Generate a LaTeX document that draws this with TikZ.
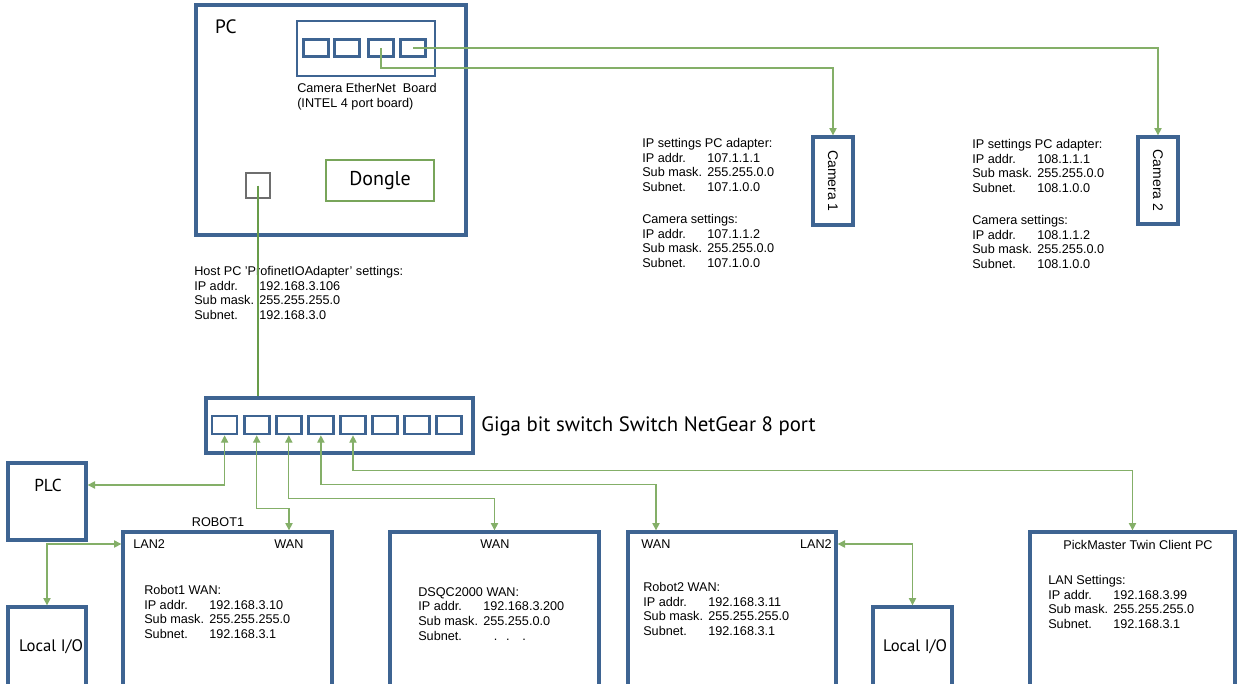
\documentclass[tikz,border=0pt]{standalone}
\usepackage{fontspec}
\setmainfont{Liberation Sans}
\newfontfamily\labelfont{PT Sans}
\usetikzlibrary{arrows.meta,fit,calc}

\definecolor{boxblue}{RGB}{62,100,146}
\definecolor{linkgreen}{RGB}{132,175,104}
\definecolor{pcgreen}{RGB}{104,156,74}
\definecolor{donglegreen}{RGB}{120,165,90}
\definecolor{portgray}{RGB}{110,110,110}

\newcommand{\setrow}[2]{\makebox[48.75pt][l]{#1}#2}

\tikzset{
	bluebox/.style={draw=boxblue, line width=2.5pt, inner sep=0pt},
	portbox/.style={draw=boxblue, line width=2pt, inner sep=0pt},
	link/.style={draw=linkgreen, line width=0.9pt, -{Triangle[length=5.5pt,width=5.5pt]}},
	dlink/.style={link, {Triangle[length=5.5pt,width=5.5pt]}-{Triangle[length=5.5pt,width=5.5pt]}},
	txt/.style={font=\fontsize{9.5}{11}\selectfont, inner sep=0pt},
	info/.style={txt, anchor=north west, align=left},
	big/.style={font=\labelfont\fontsize{14}{16}\selectfont, inner sep=0pt},
}

\begin{document}
\begin{tikzpicture}[x=0.75pt, y=-0.75pt]
\useasboundingbox (0,0) rectangle (1238,683);
\clip (0,0) rectangle (1238,683);

% PC
\node [bluebox, fit={(196,5) (466,235)}] (pc) {};
\node [big, font=\labelfont\fontsize{14.5}{16}\selectfont] (pclbl) at (226,27) {PC};
\node [bluebox, line width=2.2pt, fit={(297,21) (435,76)}] (board) {};
\foreach \x [count=\i] in {316,347,381,413}
	\node [portbox, minimum width=18.75pt, minimum height=12.75pt] (cb\i) at (\x,48) {};
\node [txt, anchor=north west, align=left] (boardlbl) at (297,83)
	{Camera EtherNet\ \ Board\\(INTEL 4 port board)};
\node [draw=donglegreen, line width=1.6pt, inner sep=0pt, fit={(326,160) (434,201)}] (dongle) {};
\node [big, font=\labelfont\fontsize{15}{16}\selectfont] (donglelbl) at (dongle.center) {Dongle};
\node [draw=portgray, line width=1.1pt, inner sep=0pt, fit={(246,173) (270,198)}] (sq) {};

% cameras
\node [bluebox, fit={(813,137) (853,225)}] (cam1) {};
\node [txt, rotate=-90, font=\fontsize{10.5}{12}\selectfont] (cam1lbl) at (cam1.center) {Camera 1};
\node [bluebox, fit={(1138,137) (1178,224)}] (cam2) {};
\node [txt, rotate=-90, font=\fontsize{10.5}{12}\selectfont] (cam2lbl) at (cam2.center) {Camera 2};

\draw [link] (cb4.center) -| (cam2.north);
\draw [link] (cb3.center) -- ++(0,20) -| (cam1.north);

\node [info] (cam1set) at (642,138) {IP settings PC adapter:\\
	\setrow{IP addr.}{107.1.1.1}\\
	\setrow{Sub mask.}{255.255.0.0}\\
	\setrow{Subnet.}{107.1.0.0}\\[13pt]
	Camera settings:\\
	\setrow{IP addr.}{107.1.1.2}\\
	\setrow{Sub mask.}{255.255.0.0}\\
	\setrow{Subnet.}{107.1.0.0}};
\node [info] (cam2set) at (972,139) {IP settings PC adapter:\\
	\setrow{IP addr.}{108.1.1.1}\\
	\setrow{Sub mask.}{255.255.0.0}\\
	\setrow{Subnet.}{108.1.0.0}\\[13pt]
	Camera settings:\\
	\setrow{IP addr.}{108.1.1.2}\\
	\setrow{Sub mask.}{255.255.0.0}\\
	\setrow{Subnet.}{108.1.0.0}};

\node [info] (hostset) at (194,266) {Host PC 'ProfinetIOAdapter' settings:\\
	\setrow{IP addr.}{192.168.3.106}\\
	\setrow{Sub mask.}{255.255.255.0}\\
	\setrow{Subnet.}{192.168.3.0}};

% switch
\node [bluebox, fit={(206,398) (473,453)}] (switch) {};
\foreach \i in {1,...,8}
	\node [portbox, minimum width=18.75pt, minimum height=13.5pt] (sw\i) at ({192.5+32.1*\i},425) {};
\node [big, anchor=west, font=\labelfont\fontsize{15.6}{18}\selectfont] (switchlbl) at (481,426) {Giga bit switch Switch NetGear 8 port};
\draw [draw=pcgreen, line width=1.5pt] (sq.center) -- (sq.center |- switch.north);

% devices
\node [bluebox, fit={(8,463) (86,540)}] (plc) {};
\node [big, font=\labelfont\fontsize{13}{14}\selectfont] (plclbl) at (48,485) {PLC};
\node [bluebox, fit={(8,607) (86,700)}] (lio1) {};
\node [big, font=\labelfont\fontsize{12.5}{14}\selectfont] (lio1lbl) at (51,647) {Local I/O};
\node [bluebox, fit={(873,607) (952,700)}] (lio2) {};
\node [big, font=\labelfont\fontsize{12.5}{14}\selectfont] (lio2lbl) at (915,647) {Local I/O};

\node [bluebox, fit={(123,532) (332,700)}] (r1) {};
\node [txt] (r1name) at (218,522) {ROBOT1};
\node [txt, anchor=west] (r1lan) at (133,544) {LAN2};
\node [txt] (r1wan) at (289,544) {WAN};
\node [info] (r1set) at (144,585) {Robot1 WAN:\\
	\setrow{IP addr.}{192.168.3.10}\\
	\setrow{Sub mask.}{255.255.255.0}\\
	\setrow{Subnet.}{192.168.3.1}};

\node [bluebox, fit={(390,532) (599,700)}] (dsqc) {};
\node [txt] (dsqcwan) at (495,544) {WAN};
\node [info] (dsqcset) at (418,587) {DSQC2000 WAN:\\
	\setrow{IP addr.}{192.168.3.200}\\
	\setrow{Sub mask.}{255.255.0.0}\\
	\setrow{Subnet.}{\hspace{8pt}.\hspace{6.5pt}.\hspace{9.5pt}.}};

\node [bluebox, fit={(628,532) (836,700)}] (r2) {};
\node [txt] (r2wan) at (656,544) {WAN};
\node [txt, anchor=east] (r2lan) at (832,544) {LAN2};
\node [info] (r2set) at (643,582) {Robot2 WAN:\\
	\setrow{IP addr.}{192.168.3.11}\\
	\setrow{Sub mask.}{255.255.255.0}\\
	\setrow{Subnet.}{192.168.3.1}};

\node [bluebox, fit={(1030,532) (1235,700)}] (pm) {};
\node [txt] (pmlbl) at (1138,545) {PickMaster Twin Client PC};
\node [info] (pmset) at (1048,575) {LAN Settings:\\
	\setrow{IP addr.}{192.168.3.99}\\
	\setrow{Sub mask.}{255.255.255.0}\\
	\setrow{Subnet.}{192.168.3.1}};

\draw [dlink] (sw1.south) |- ([yshift=12.4pt]plc.east);
\draw [dlink] (sw2.south) -- ++(0,73) -| (r1wan |- r1.north);
\draw [dlink] (sw3.south) -- ++(0,63) -| (dsqc.north);
\draw [dlink] (sw4.south) -- ++(0,49) -| (r2wan |- r2.north);
\draw [dlink] (sw5.south) -- ++(0,35) -| (pm.north);
\draw [dlink] (lio1.north) |- (r1.west |- r1lan);
\draw [dlink] (lio2.north) |- (r2.east |- r2lan);
\end{tikzpicture}
\end{document}
